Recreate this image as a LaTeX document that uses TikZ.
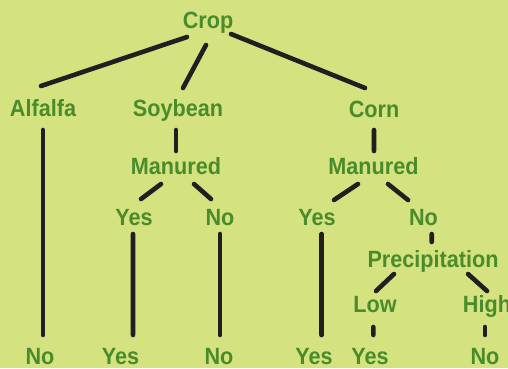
\documentclass[tikz,border=0pt]{standalone}
\usepackage{fontspec}
\setmainfont{Liberation Sans}[FakeStretch=0.92]
\definecolor{bg}{HTML}{D4E27F}
\definecolor{txt}{HTML}{4A8B2C}
\definecolor{ln}{HTML}{231F20}
\tikzset{
  lbl/.style={inner sep=0pt, anchor=base, text=txt, font=\fontsize{23.5bp}{28bp}\selectfont\bfseries},
  edge/.style={draw=ln, line width=4.6bp, line cap=round}
}
\begin{document}
\begin{tikzpicture}[x=1bp,y=-1bp]
\fill[bg] (0,0) rectangle (508,368);
\useasboundingbox (0,0) rectangle (508,368);
\node[lbl] (crop) at (208,28) {Crop};
\node[lbl] (alf) at (43,116) {Alfalfa};
\node[lbl] (soy) at (178,116) {Soybean};
\node[lbl] (corn) at (374,117) {Corn};
\node[lbl] (manL) at (176,174) {Manured};
\node[lbl] (manR) at (373.5,174) {Manured};
\node[lbl] (yesL) at (134,225) {Yes};
\node[lbl] (noL) at (220,225) {No};
\node[lbl] (yesR) at (317,225) {Yes};
\node[lbl] (noR) at (423.5,225) {No};
\node[lbl] (prec) at (433,267) {Precipitation};
\node[lbl] (low) at (375,312) {Low};
\node[lbl] (high) at (487,312) {High};
\node[lbl] (b1) at (40,364) {No};
\node[lbl] (b2) at (120.5,364) {Yes};
\node[lbl] (b3) at (219,364) {No};
\node[lbl] (b4) at (314,364) {Yes};
\node[lbl] (b5) at (370,364) {Yes};
\node[lbl] (b6) at (485,364) {No};
\draw[edge] ([shift={(-21,9)}]crop.base) -- ([shift={(-2,-30)}]alf.base);
\draw[edge] ([shift={(-2,17)}]crop.base) -- ([shift={(5,-28)}]soy.base);
\draw[edge] ([shift={(23,6)}]crop.base) -- ([shift={(-9,-29)}]corn.base);
\draw[edge] ([shift={(0,14)}]alf.base) -- ([shift={(3,-29)}]b1.base);
\draw[edge] ([shift={(-2,14)}]soy.base) -- ([shift={(0,-23)}]manL.base);
\draw[edge] ([shift={(0,13)}]corn.base) -- ([shift={(0.5,-23)}]manR.base);
\draw[edge] ([shift={(-15,10)}]manL.base) -- ([shift={(7,-26)}]yesL.base);
\draw[edge] ([shift={(18,10)}]manL.base) -- ([shift={(-9,-26)}]noL.base);
\draw[edge] ([shift={(-15.5,10)}]manR.base) -- ([shift={(17,-25)}]yesR.base);
\draw[edge] ([shift={(14.5,10)}]manR.base) -- ([shift={(-15.5,-25)}]noR.base);
\draw[edge] ([shift={(-1,9)}]yesL.base) -- ([shift={(12.5,-29)}]b2.base);
\draw[edge] ([shift={(0,9)}]noL.base) -- ([shift={(1,-29)}]b3.base);
\draw[edge] ([shift={(4.7,9)}]yesR.base) -- ([shift={(7.7,-29)}]b4.base);
\draw[edge] ([shift={(8.2,9)}]noR.base) -- ([shift={(-1.3,-25)}]prec.base);
\draw[edge] ([shift={(-39,7)}]prec.base) -- ([shift={(1,-21)}]low.base);
\draw[edge] ([shift={(35,7)}]prec.base) -- ([shift={(0,-21)}]high.base);
\draw[edge] ([shift={(-1.7,15)}]low.base) -- ([shift={(3.3,-29)}]b5.base);
\draw[edge] ([shift={(-2,15)}]high.base) -- ([shift={(0,-29)}]b6.base);
\end{tikzpicture}
\end{document}
